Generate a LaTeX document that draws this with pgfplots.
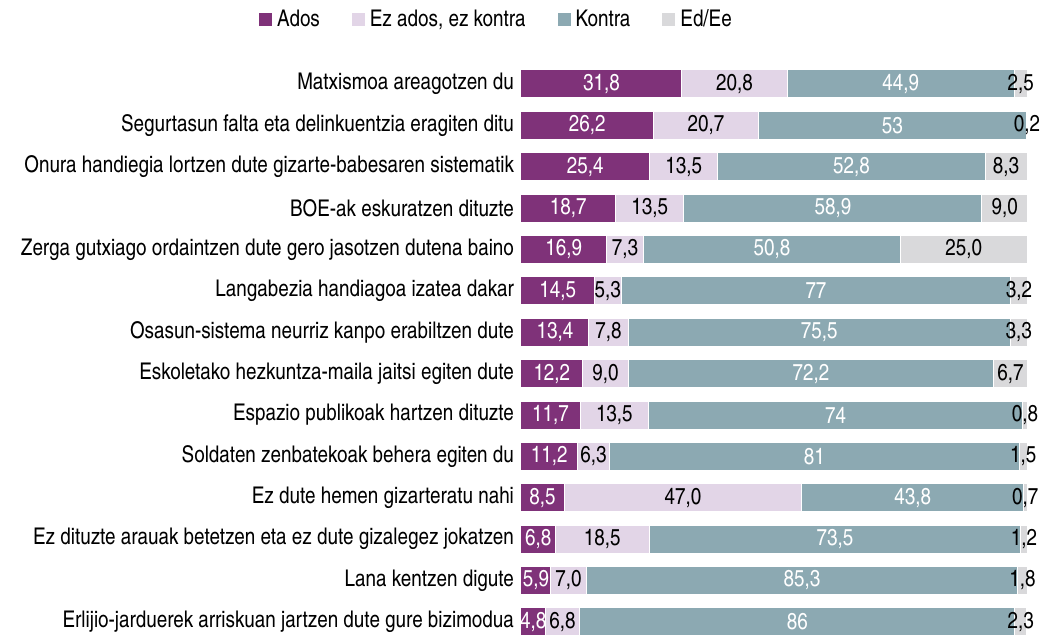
\documentclass[border=0pt]{standalone}
\usepackage{fontspec}
\setmainfont{texgyreheroscn}[Extension=.otf, UprightFont=*-regular, BoldFont=*-bold]
\usepackage{pgfplots}
\pgfplotsset{compat=1.18}
\usepackage{pgfplotstable}

\definecolor{cA}{HTML}{7F3279}
\definecolor{cB}{HTML}{E2D5E7}
\definecolor{cC}{HTML}{8CA9B2}
\definecolor{cD}{HTML}{D9D9DB}

\pgfplotstableread{
y v l
0 31.8 31,8
1 26.2 26,2
2 25.4 25,4
3 18.7 18,7
4 16.9 16,9
5 14.5 14,5
6 13.4 13,4
7 12.2 12,2
8 11.7 11,7
9 11.2 11,2
10 8.5 8,5
11 6.8 6,8
12 5.9 5,9
13 4.8 4,8
}\ados
\pgfplotstableread{
y v l
0 20.8 20,8
1 20.7 20,7
2 13.5 13,5
3 13.5 13,5
4 7.3 7,3
5 5.3 5,3
6 7.8 7,8
7 9.0 9,0
8 13.5 13,5
9 6.3 6,3
10 47.0 47,0
11 18.5 18,5
12 7.0 7,0
13 6.8 6,8
}\ezados
\pgfplotstableread{
y v l
0 44.9 44,9
1 53 53
2 52.8 52,8
3 58.9 58,9
4 50.8 50,8
5 77 77
6 75.5 75,5
7 72.2 72,2
8 74 74
9 81 81
10 43.8 43,8
11 73.5 73,5
12 85.3 85,3
13 86 86
}\kontra
\pgfplotstableread{
y v l
0 2.5 2,5
1 0.2 0,2
2 8.3 8,3
3 9.0 9,0
4 25.0 25,0
5 3.2 3,2
6 3.3 3,3
7 6.7 6,7
8 0.8 0,8
9 1.5 1,5
10 0.7 0,7
11 1.2 1,2
12 1.8 1,8
13 2.3 2,3
}\eded

\newcommand{\lblfont}{\fontsize{11.5}{13}\selectfont}

\begin{document}
\begin{tikzpicture}
\begin{axis}[
  xbar stacked,
  x=2.53pt, y=20.69pt,
  y dir=reverse,
  xmin=0, xmax=101, ymin=-0.5, ymax=13.5,
  clip=false,
  bar width=14pt,
  axis line style={draw=none},
  xtick=\empty,
  ytick={0,...,13},
  yticklabels={Matxismoa areagotzen du,
    Segurtasun falta eta delinkuentzia eragiten ditu,
    Onura handiegia lortzen dute gizarte-babesaren sistematik,
    BOE-ak eskuratzen dituzte,
    Zerga gutxiago ordaintzen dute gero jasotzen dutena baino,
    Langabezia handiagoa izatea dakar,
    Osasun-sistema neurriz kanpo erabiltzen dute,
    Eskoletako hezkuntza-maila jaitsi egiten dute,
    Espazio publikoak hartzen dituzte,
    Soldaten zenbatekoak behera egiten du,
    Ez dute hemen gizarteratu nahi,
    Ez dituzte arauak betetzen eta ez dute gizalegez jokatzen,
    Lana kentzen digute,
    Erlijio-jarduerek arriskuan jartzen dute gure bizimodua},
  major tick length=0pt,
  yticklabel style={font=\lblfont, anchor=east},
  nodes near coords,
  point meta=explicit symbolic,
  every node near coord/.append style={anchor=center, font=\lblfont, inner sep=0pt},
  legend columns=4,
  legend style={draw=none, fill=none, font=\lblfont,
    at={(axis description cs:-0.047,1.075)}, anchor=center,
    /tikz/every even column/.append style={column sep=13.5pt}},
  legend image code/.code={\fill[#1] (0pt,-3.5pt) rectangle (7pt,3.5pt);},
]
\addplot[fill=cA, draw=white, line width=0.5pt, nodes near coords style={text=white}] table[x=v, y=y, meta=l] {\ados};
\addplot[fill=cB, draw=white, line width=0.5pt, nodes near coords style={text=black}] table[x=v, y=y, meta=l] {\ezados};
\addplot[fill=cC, draw=white, line width=0.5pt, nodes near coords style={text=white}] table[x=v, y=y, meta=l] {\kontra};
\addplot[fill=cD, draw=white, line width=0.5pt, nodes near coords style={text=black}] table[x=v, y=y, meta=l] {\eded};
\legend{Ados, {Ez ados, ez kontra}, Kontra, Ed/Ee}
\coordinate (BL) at (axis cs:0,13.5);
\coordinate (TR) at (axis cs:100,-0.5);
\end{axis}
\pgfresetboundingbox
\path[use as bounding box] ([xshift=-260.5pt,yshift=2.85pt]BL) rectangle ([xshift=10pt,yshift=31.65pt]TR);
\end{tikzpicture}
\end{document}
